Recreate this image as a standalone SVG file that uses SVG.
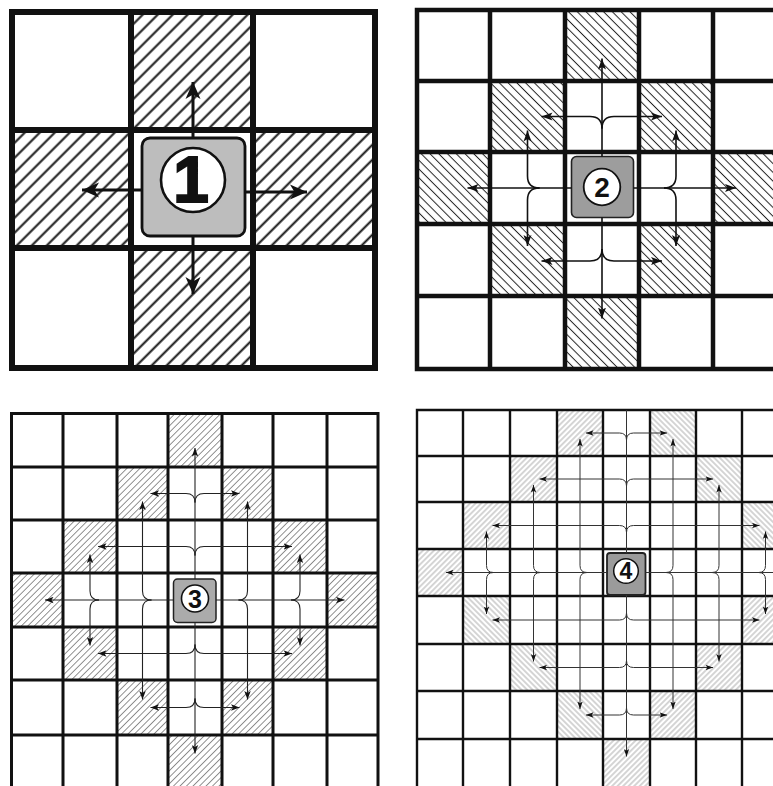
<svg xmlns="http://www.w3.org/2000/svg" width="773" height="786" viewBox="0 0 773 786">
<style>
.g1{fill:none;stroke:#111;stroke-width:6;stroke-linecap:square}
.g2{fill:none;stroke:#111;stroke-width:4.5;stroke-linecap:square}
.g3{fill:none;stroke:#111;stroke-width:3;stroke-linecap:square}
.g4{fill:none;stroke:#111;stroke-width:2.4;stroke-linecap:square}
.a1{fill:none;stroke:#111;stroke-width:3;marker-end:url(#m1)}
.a2{fill:none;stroke:#111;stroke-width:1.6;marker-end:url(#m2)}
.a3{fill:none;stroke:#222;stroke-width:1.1;marker-end:url(#m3)}
.a4{fill:none;stroke:#333;stroke-width:1;marker-end:url(#m4)}
.a4n{fill:none;stroke:#333;stroke-width:1}
.dg{font-family:"Liberation Sans",Arial,sans-serif;font-weight:bold;text-anchor:middle;fill:#111}
.ci{fill:#fff;stroke:#111}
</style>
<defs>
<pattern id="h1" width="10.6" height="10.6" patternUnits="userSpaceOnUse" patternTransform="rotate(45)"><line x1="5.3" y1="-1" x2="5.3" y2="12" stroke="#111" stroke-width="2"/></pattern>
<pattern id="h2" width="6.2" height="6.2" patternUnits="userSpaceOnUse" patternTransform="rotate(-45)"><line x1="3.1" y1="-1" x2="3.1" y2="8" stroke="#222" stroke-width="1"/></pattern>
<pattern id="h3" width="4.6" height="4.6" patternUnits="userSpaceOnUse" patternTransform="rotate(45)"><line x1="2.3" y1="-1" x2="2.3" y2="6" stroke="#777" stroke-width="0.8"/></pattern>
<pattern id="h4a" width="3.9" height="3.9" patternUnits="userSpaceOnUse" patternTransform="rotate(45)"><line x1="1.95" y1="-1" x2="1.95" y2="5" stroke="#8f8f8f" stroke-width="0.75"/></pattern>
<pattern id="h4b" width="3.9" height="3.9" patternUnits="userSpaceOnUse" patternTransform="rotate(-45)"><line x1="1.95" y1="-1" x2="1.95" y2="5" stroke="#8f8f8f" stroke-width="0.75"/></pattern>
<marker id="m1" markerUnits="userSpaceOnUse" orient="auto" markerWidth="18" markerHeight="16" refX="17" refY="8" viewBox="0 0 18 16"><path d="M0,0.5 L17,8 L0,15.5 L4.5,8 z" fill="#111"/></marker>
<marker id="m2" markerUnits="userSpaceOnUse" orient="auto" markerWidth="12" markerHeight="9" refX="11" refY="4.5" viewBox="0 0 12 9"><path d="M0,0.5 L11,4.5 L0,8.5 L2.5,4.5 z" fill="#111"/></marker>
<marker id="m3" markerUnits="userSpaceOnUse" orient="auto" markerWidth="9" markerHeight="7" refX="8.5" refY="3.5" viewBox="0 0 9 7"><path d="M0,0.3 L8.5,3.5 L0,6.7 L2,3.5 z" fill="#111"/></marker>
<marker id="m4" markerUnits="userSpaceOnUse" orient="auto" markerWidth="8" markerHeight="6" refX="7.5" refY="3" viewBox="0 0 8 6"><path d="M0,0.3 L7.5,3 L0,5.7 L1.8,3 z" fill="#111"/></marker>
</defs>
<rect width="773" height="786" fill="#fff"/>

<!-- PANEL 1 -->
<g id="panel1">
  <g id="p1-hatch" fill="url(#h1)">
    <rect x="131" y="12" width="122" height="118"/>
    <rect x="12" y="130" width="119" height="118"/>
    <rect x="253" y="130" width="122" height="118"/>
    <rect x="131" y="248" width="122" height="120"/>
  </g>
  <rect x="131" y="130" width="122" height="118" fill="#fff"/>
  <path class="g1" d="M12,12 H375 V368 H12 Z M131,12 V368 M253,12 V368 M12,130 H375 M12,248 H375"/>
  <g id="p1-center">
    <rect x="142" y="138" width="103" height="98" rx="8" fill="#bdbdbd" stroke="#111" stroke-width="2.8"/>
    <circle class="ci" cx="193" cy="180" r="32" stroke-width="2.6"/>
    <text class="dg" x="191" y="202" font-size="64" stroke="#111" stroke-width="2">1</text>
  </g>
  <g id="p1-connectors">
    <path class="a1" d="M193,138 V82"/>
    <path class="a1" d="M142,190 H82"/>
    <path class="a1" d="M245,192 H307"/>
    <path class="a1" d="M193,236 V294"/>
  </g>
</g>

<!-- PANEL 2 -->
<g id="panel2">
  <g id="p2-hatch" fill="url(#h2)">
    <rect x="565" y="10" width="74" height="71"/>
    <rect x="490" y="81" width="75" height="71"/>
    <rect x="639" y="81" width="74" height="71"/>
    <rect x="417" y="152" width="73" height="72"/>
    <rect x="713" y="152" width="74" height="72"/>
    <rect x="490" y="224" width="75" height="72"/>
    <rect x="639" y="224" width="74" height="72"/>
    <rect x="565" y="296" width="74" height="73"/>
  </g>
  <path class="g2" d="M417,10 H787 M417,81 H787 M417,152 H787 M417,224 H787 M417,296 H787 M417,369 H787 M417,10 V369 M490,10 V369 M565,10 V369 M639,10 V369 M713,10 V369"/>
  <g id="p2-center">
    <rect x="571.5" y="156.5" width="62" height="61" rx="5" fill="#9d9d9d" stroke="#222" stroke-width="1.6"/>
    <circle class="ci" cx="602" cy="187" r="18.3" stroke-width="1.8"/>
    <text class="dg" x="602" y="197" font-size="28">2</text>
  </g>
  <g id="p2-connectors">
    <path class="a2" d="M602,156.5 V58.5"/>
    <path class="a2" d="M602,128.5 Q602,116.5 590,116.5 H541.5"/>
    <path class="a2" d="M602,128.5 Q602,116.5 614,116.5 H662"/>
    <path class="a2" d="M602,217.5 V318.5"/>
    <path class="a2" d="M602,249 Q602,261 590,261 H541.5"/>
    <path class="a2" d="M602,249 Q602,261 614,261 H662"/>
    <path class="a2" d="M571.5,188 H467.5"/>
    <path class="a2" d="M539.5,188 Q527.5,188 527.5,176 V130.5"/>
    <path class="a2" d="M539.5,188 Q527.5,188 527.5,200 V246"/>
    <path class="a2" d="M633.5,188 H736"/>
    <path class="a2" d="M664,188 Q676,188 676,176 V130.5"/>
    <path class="a2" d="M664,188 Q676,188 676,200 V246"/>
  </g>
</g>

<!-- PANEL 3 -->
<g id="panel3">
  <g id="p3-hatch" fill="url(#h3)">
    <rect x="168" y="413.5" width="54" height="53.5"/>
    <rect x="117" y="467" width="51" height="53"/>
    <rect x="222" y="467" width="51" height="53"/>
    <rect x="63" y="520" width="54" height="53"/>
    <rect x="273" y="520" width="54" height="53"/>
    <rect x="11.5" y="573" width="51.5" height="54"/>
    <rect x="327" y="573" width="51" height="54"/>
    <rect x="63" y="627" width="54" height="53"/>
    <rect x="273" y="627" width="54" height="53"/>
    <rect x="117" y="680" width="51" height="55"/>
    <rect x="222" y="680" width="51" height="55"/>
    <rect x="168" y="735" width="54" height="53"/>
  </g>
  <path class="g3" d="M11.5,413.5 H378 M11.5,467 H378 M11.5,520 H378 M11.5,573 H378 M11.5,627 H378 M11.5,680 H378 M11.5,735 H378 M11.5,413.5 V790 M63,413.5 V790 M117,413.5 V790 M168,413.5 V790 M222,413.5 V790 M273,413.5 V790 M327,413.5 V790 M378,413.5 V790"/>
  <g id="p3-center">
    <rect x="173.5" y="579" width="42.5" height="43.5" rx="4" fill="#ababab" stroke="#222" stroke-width="1.5"/>
    <circle class="ci" cx="195" cy="598.5" r="13.5" stroke-width="1.6"/>
    <text class="dg" x="195" y="607.5" font-size="25">3</text>
  </g>
  <g id="p3-connectors">
    <path class="a3" d="M195,579 V448"/>
    <path class="a3" d="M195,555.5 Q195,546.5 186,546.5 H98"/>
    <path class="a3" d="M195,555.5 Q195,546.5 204,546.5 H292"/>
    <path class="a3" d="M195,502.5 Q195,493.5 186,493.5 H150.5"/>
    <path class="a3" d="M195,502.5 Q195,493.5 204,493.5 H239.5"/>
    <path class="a3" d="M195,622.5 V753.5"/>
    <path class="a3" d="M195,644.5 Q195,653.5 186,653.5 H98"/>
    <path class="a3" d="M195,644.5 Q195,653.5 204,653.5 H292"/>
    <path class="a3" d="M195,698.5 Q195,707.5 186,707.5 H150.5"/>
    <path class="a3" d="M195,698.5 Q195,707.5 204,707.5 H239.5"/>
    <path class="a3" d="M173.5,600 H45"/>
    <path class="a3" d="M151.5,600 Q142.5,600 142.5,591 V501.5"/>
    <path class="a3" d="M151.5,600 Q142.5,600 142.5,609 V699.5"/>
    <path class="a3" d="M99,600 Q90,600 90,591 V554.5"/>
    <path class="a3" d="M99,600 Q90,600 90,609 V645.5"/>
    <path class="a3" d="M216,600 H344.5"/>
    <path class="a3" d="M238.5,600 Q247.5,600 247.5,591 V501.5"/>
    <path class="a3" d="M238.5,600 Q247.5,600 247.5,609 V699.5"/>
    <path class="a3" d="M291,600 Q300,600 300,591 V554.5"/>
    <path class="a3" d="M291,600 Q300,600 300,609 V645.5"/>
  </g>
</g>

<!-- PANEL 4 -->
<g id="panel4">
  <g id="p4-hatch">
    <rect x="557" y="410" width="46" height="46" fill="url(#h4a)"/>
    <rect x="650" y="410" width="46" height="46" fill="url(#h4b)"/>
    <rect x="510" y="456" width="47" height="46" fill="url(#h4a)"/>
    <rect x="696" y="456" width="46" height="46" fill="url(#h4b)"/>
    <rect x="463" y="502" width="47" height="47" fill="url(#h4a)"/>
    <rect x="742" y="502" width="47" height="47" fill="url(#h4b)"/>
    <rect x="417" y="549" width="46" height="47" fill="url(#h4a)"/>
    <rect x="463" y="596" width="47" height="48" fill="url(#h4b)"/>
    <rect x="742" y="596" width="47" height="48" fill="url(#h4a)"/>
    <rect x="510" y="644" width="47" height="47" fill="url(#h4b)"/>
    <rect x="696" y="644" width="46" height="47" fill="url(#h4a)"/>
    <rect x="557" y="691" width="46" height="48" fill="url(#h4b)"/>
    <rect x="650" y="691" width="46" height="48" fill="url(#h4a)"/>
    <rect x="603" y="739" width="47" height="47" fill="url(#h4a)"/>
  </g>
  <path class="g4" d="M417,410 H789 M417,456 H789 M417,502 H789 M417,549 H789 M417,596 H789 M417,644 H789 M417,691 H789 M417,739 H789 M417,410 V790 M463,410 V790 M510,410 V790 M557,410 V790 M603,410 V790 M650,410 V790 M696,410 V790 M742,410 V790"/>
  <g id="p4-center">
    <rect x="607" y="553" width="38.5" height="42" rx="3" fill="#9b9b9b" stroke="#222" stroke-width="1.8"/>
    <circle class="ci" cx="626" cy="571" r="12.3" stroke-width="1.5"/>
    <text class="dg" x="626" y="579.3" font-size="23">4</text>
  </g>
  <g id="p4-connectors">
    <path class="a4n" d="M626.5,553 V410"/>
    <path class="a4" d="M626.5,532.5 Q626.5,525.5 619.5,525.5 H492.5"/>
    <path class="a4" d="M626.5,532.5 Q626.5,525.5 633.5,525.5 H759.5"/>
    <path class="a4" d="M626.5,486 Q626.5,479 619.5,479 H539.5"/>
    <path class="a4" d="M626.5,486 Q626.5,479 633.5,479 H713"/>
    <path class="a4" d="M626.5,440 Q626.5,433 619.5,433 H586"/>
    <path class="a4" d="M626.5,440 Q626.5,433 633.5,433 H667"/>
    <path class="a4" d="M626.5,595 V756.5"/>
    <path class="a4" d="M626.5,613 Q626.5,620 619.5,620 H492.5"/>
    <path class="a4" d="M626.5,613 Q626.5,620 633.5,620 H759.5"/>
    <path class="a4" d="M626.5,660.5 Q626.5,667.5 619.5,667.5 H539.5"/>
    <path class="a4" d="M626.5,660.5 Q626.5,667.5 633.5,667.5 H713"/>
    <path class="a4" d="M626.5,708 Q626.5,715 619.5,715 H586"/>
    <path class="a4" d="M626.5,708 Q626.5,715 633.5,715 H667"/>
    <path class="a4" d="M607,572.5 H446"/>
    <path class="a4" d="M587,572.5 Q580,572.5 580,565.5 V439"/>
    <path class="a4" d="M587,572.5 Q580,572.5 580,579.5 V709"/>
    <path class="a4" d="M540.5,572.5 Q533.5,572.5 533.5,565.5 V485"/>
    <path class="a4" d="M540.5,572.5 Q533.5,572.5 533.5,579.5 V661.5"/>
    <path class="a4" d="M493.5,572.5 Q486.5,572.5 486.5,565.5 V531.5"/>
    <path class="a4" d="M493.5,572.5 Q486.5,572.5 486.5,579.5 V614"/>
    <path class="a4n" d="M645.5,572.5 H775"/>
    <path class="a4" d="M666,572.5 Q673,572.5 673,565.5 V439"/>
    <path class="a4" d="M666,572.5 Q673,572.5 673,579.5 V709"/>
    <path class="a4" d="M712,572.5 Q719,572.5 719,565.5 V485"/>
    <path class="a4" d="M712,572.5 Q719,572.5 719,579.5 V661.5"/>
    <path class="a4" d="M758.5,572.5 Q765.5,572.5 765.5,565.5 V531.5"/>
    <path class="a4" d="M758.5,572.5 Q765.5,572.5 765.5,579.5 V614"/>
  </g>
</g>
</svg>
